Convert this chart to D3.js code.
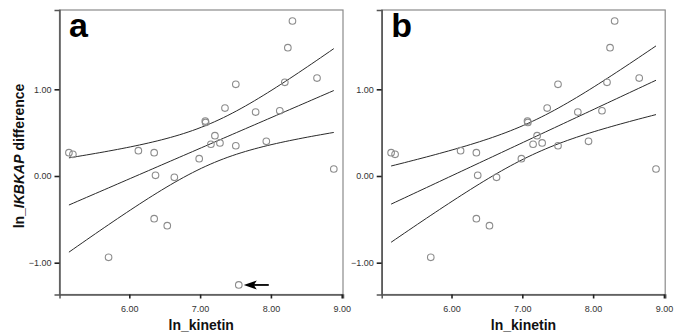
<!DOCTYPE html>
<html>
<head>
<meta charset="utf-8">
<script src="https://cdn.jsdelivr.net/npm/d3@7"></script>
<style>
  body { margin: 0; background: #fff; }
  svg text { font-family: Arial, "Liberation Sans", sans-serif; }
</style>
</head>
<body>
<svg id="chart" width="677" height="335"></svg>
<script>
// ln_kinetin / ln_IKBKAP difference
const kinetin = [5.147, 5.203, 6.128, 6.351, 6.987, 7.073, 7.078, 7.209, 7.152, 7.280,
                 7.351, 7.504, 7.504, 7.784, 7.935, 8.125, 8.196, 8.239, 8.304, 8.651,
                 8.888, 6.370, 6.636, 6.351, 6.536, 5.707];
const ikbkapDiff = [0.269, 0.250, 0.292, 0.269, 0.200, 0.634, 0.618, 0.465, 0.366, 0.381,
                    0.784, 1.058, 0.349, 0.738, 0.400, 0.753, 1.081, 1.480, 1.788, 1.130,
                    0.081, 0.008, -0.015, -0.492, -0.573, -0.938];
// the point marked with an arrow, only kept in panel a
const outlier = {x: 7.546, y: -1.257};

const xTicks = [6, 7, 8, 9];
const yTicks = [-1, 0, 1];
const panels = [
    {label: "a", left: 59.5, withOutlier: true},
    {label: "b", left: 381.7, withOutlier: false}
];

// t(0.975, df)
const tTable = {23: 2.069, 24: 2.064, 25: 2.060, 26: 2.056};

const TOP = 10, BOTTOM = 294.5, WIDTH = 283.5;

function fitLine(pts) {
    const n = pts.length;
    const mx = d3.mean(pts, p => p.x), my = d3.mean(pts, p => p.y);
    let sxx = 0, sxy = 0;
    pts.forEach(p => { sxx += (p.x - mx) ** 2; sxy += (p.x - mx) * (p.y - my); });
    const b = sxy / sxx, a = my - b * mx;
    let sse = 0;
    pts.forEach(p => { sse += (p.y - a - b * p.x) ** 2; });
    const s = Math.sqrt(sse / (n - 2));
    const t = tTable[n - 2] || 2.06;
    return function (x) {
        const yhat = a + b * x;
        const h = t * s * Math.sqrt(1 / n + (x - mx) ** 2 / sxx);
        return {fit: yhat, lo: yhat - h, hi: yhat + h};
    };
}

const svg = d3.select("#chart");

panels.forEach(panel => {
    const pts = kinetin.map((x, i) => ({x: x, y: ikbkapDiff[i]}));
    if (panel.withOutlier) pts.push(outlier);

    const x = d3.scaleLinear().domain([5.014, 9.018]).range([panel.left, panel.left + WIDTH]);
    const y = d3.scaleLinear().domain([-1.367, 1.915]).range([BOTTOM, TOP]);

    const g = svg.append("g");

    // frame
    g.append("rect")
        .attr("x", panel.left).attr("y", TOP)
        .attr("width", WIDTH).attr("height", BOTTOM - TOP)
        .attr("fill", "none").attr("stroke", "#8a8a8a").attr("stroke-width", 1.2);

    const xAxis = g.append("g")
        .attr("transform", "translate(0," + BOTTOM + ")")
        .call(d3.axisBottom(x).tickValues(xTicks).tickFormat(d3.format(".2f")).tickSize(4).tickPadding(7));
    const yAxis = g.append("g")
        .attr("transform", "translate(" + panel.left + ",0)")
        .call(d3.axisLeft(y).tickValues(yTicks).tickFormat(d3.format(".2f")).tickSize(5).tickPadding(3));
    [xAxis, yAxis].forEach(ax => {
        ax.select(".domain").attr("stroke", "#555").attr("stroke-width", 1.5);
        ax.selectAll(".tick line").attr("stroke", "#222").attr("stroke-width", 1.6);
        ax.selectAll(".tick text").attr("font-size", 9).attr("fill", "#333");
    });

    // regression line with 95% mean CI
    const f = fitLine(pts);
    const ext = d3.extent(pts, p => p.x);
    const xs = d3.range(0, 61).map(i => ext[0] + (ext[1] - ext[0]) * i / 60);
    ["lo", "fit", "hi"].forEach(k => {
        g.append("path")
            .datum(xs)
            .attr("fill", "none")
            .attr("stroke", "#2a2a2a")
            .attr("stroke-width", 1)
            .attr("d", d3.line().x(v => x(v)).y(v => y(f(v)[k])));
    });

    // points
    g.selectAll("circle.pt")
        .data(pts)
        .enter()
        .append("circle")
        .attr("class", "pt")
        .attr("cx", d => x(d.x))
        .attr("cy", d => y(d.y))
        .attr("r", 3.3)
        .attr("fill", "none")
        .attr("stroke", "#8c8c8c")
        .attr("stroke-width", 1.1);

    if (panel.withOutlier) {
        const ax = x(outlier.x) + 5, ay = y(outlier.y);
        g.append("line")
            .attr("x1", ax + 9).attr("y1", ay)
            .attr("x2", ax + 25).attr("y2", ay)
            .attr("stroke", "#000").attr("stroke-width", 1.8);
        g.append("path")
            .attr("d", "M" + ax + "," + ay + " L" + (ax + 13) + "," + (ay - 4.5) +
                " L" + (ax + 10) + "," + ay + " L" + (ax + 13) + "," + (ay + 4.5) + " Z")
            .attr("fill", "#000");
    }

    g.append("text")
        .attr("x", panel.left + 9.5)
        .attr("y", 36.7)
        .attr("font-size", 34)
        .attr("font-weight", "bold")
        .text(panel.label);

    g.append("text")
        .attr("x", panel.left + WIDTH / 2)
        .attr("y", 330)
        .attr("text-anchor", "middle")
        .attr("font-size", 14)
        .attr("font-weight", "bold")
        .attr("fill", "#111")
        .text("ln_kinetin");
});

const yl = svg.append("text")
    .attr("transform", "translate(23.5,156) rotate(-90)")
    .attr("text-anchor", "middle")
    .attr("font-size", 14)
    .attr("font-weight", "bold")
    .attr("fill", "#111");
yl.append("tspan").text("ln_");
yl.append("tspan").attr("font-style", "italic").text("IKBKAP");
yl.append("tspan").text(" difference");
</script>
</body>
</html>
